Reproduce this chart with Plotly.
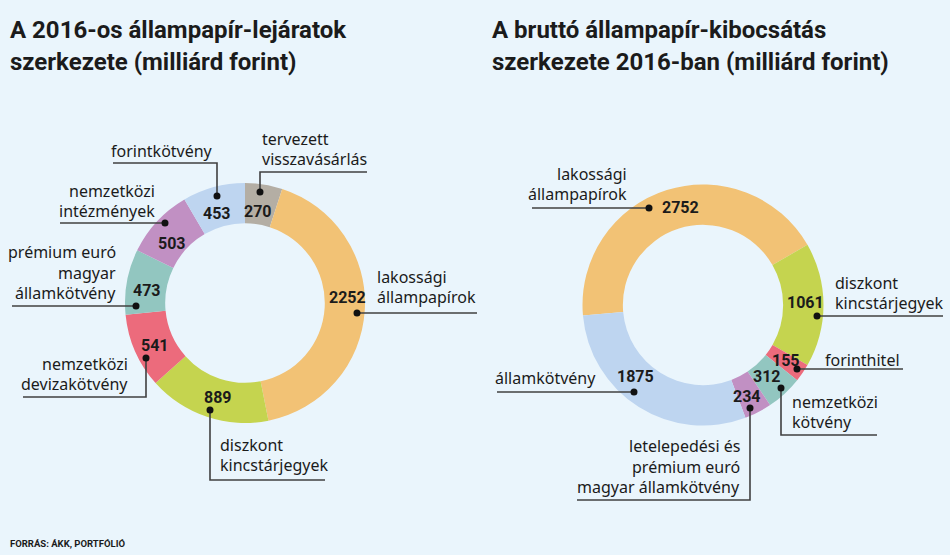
import plotly.graph_objects as go

W, H = 950, 555

# ---------------- data ----------------
left_categories = ["tervezett<br>visszavásárlás", "lakossági<br>állampapírok", "diszkont<br>kincstárjegyek",
                   "nemzetközi<br>devizakötvény", "prémium euró<br>magyar<br>államkötvény",
                   "nemzetközi<br>intézmények", "forintkötvény"]
left_values = [270, 2252, 889, 541, 473, 503, 453]

right_categories = ["lakossági<br>állampapírok", "diszkont<br>kincstárjegyek", "forinthitel",
                    "nemzetközi<br>kötvény", "letelepedési és<br>prémium euró<br>magyar államkötvény",
                    "államkötvény"]
right_values = [2752, 1061, 155, 312, 234, 1875]

left_title = ["A 2016-os állampapír-lejáratok", "szerkezete (milliárd forint)"]
right_title = ["A bruttó állampapír-kibocsátás", "szerkezete 2016-ban (milliárd forint)"]
source_text = "FORRÁS: ÁKK, PORTFÓLIÓ"

# ---------------- style ----------------
BG = "#EAF5FC"
C_GRAY, C_ORANGE, C_GREEN = "#B4AEA4", "#F2C275", "#C5D44F"
C_RED, C_TEAL, C_PURPLE, C_BLUE = "#EC6B7C", "#92C6C0", "#C190C3", "#BED5F0"
left_colors = [C_GRAY, C_ORANGE, C_GREEN, C_RED, C_TEAL, C_PURPLE, C_BLUE]
right_colors = [C_ORANGE, C_GREEN, C_RED, C_TEAL, C_PURPLE, C_BLUE]

TITLE_FONT = "Roboto, Liberation Sans Narrow, DejaVu Sans Condensed, sans-serif"
LABEL_FONT = "Noto Sans, Open Sans, sans-serif"
LINE_COLOR = "#404040"
TEXT_COLOR = "#1b1b1b"

# callout layout in pixels (number centre, dot, leader path, label x, align, last-line centre y)
left_callouts = [
    dict(num=(258, 211), dot=(260, 192), path=[(260, 172), (367, 172)], lx=260, align="left", ly=159),
    dict(num=(347, 297), dot=(357, 313), path=[(477, 313)], lx=375, align="left", ly=297),
    dict(num=(218, 397), dot=(210, 410), path=[(210, 480), (325, 480)], lx=218, align="left", ly=465),
    dict(num=(155, 345), dot=(146, 358), path=[(146, 397), (23, 397)], lx=130, align="right", ly=384),
    dict(num=(147, 290), dot=(136, 306), path=[(12, 306)], lx=118, align="right", ly=293),
    dict(num=(172, 244), dot=(165, 223), path=[(60, 223)], lx=157, align="right", ly=211),
    dict(num=(217, 213), dot=(217, 196), path=[(217, 163), (113, 163)], lx=215, align="right", ly=151),
]
right_callouts = [
    dict(num=(680, 208), dot=(649, 208), path=[(532, 208)], lx=629, align="right", ly=194),
    dict(num=(805, 302), dot=(817, 316), path=[(943, 316)], lx=833, align="left", ly=303),
    dict(num=(786, 360), dot=(797, 369), path=[(903, 369)], lx=823, align="left", ly=360),
    dict(num=(767, 377), dot=(781, 388), path=[(781, 435), (877, 435)], lx=790, align="left", ly=422),
    dict(num=(747, 396), dot=(750, 408), path=[(750, 500), (577, 500)], lx=742, align="right", ly=487),
    dict(num=(635, 377), dot=(634, 392), path=[(497, 392)], lx=598, align="right", ly=378),
]


def px(x):
    return x / W


def py(y):
    return 1 - y / H


def dom(cx, cy, r):
    return dict(x=[px(cx - r), px(cx + r)], y=[py(cy + r), py(cy - r)])


fig = go.Figure()
fig.add_trace(go.Pie(
    labels=left_categories, values=left_values, sort=False, direction="clockwise", rotation=0,
    hole=0.665, marker=dict(colors=left_colors, line=dict(width=0)), textinfo="none",
    domain=dom(245, 303, 120), showlegend=False, hoverinfo="label+value",
))
fig.add_trace(go.Pie(
    labels=right_categories, values=right_values, sort=False, direction="clockwise", rotation=265,
    hole=0.665, marker=dict(colors=right_colors, line=dict(width=0)), textinfo="none",
    domain=dom(703, 305, 120.5), showlegend=False, hoverinfo="label+value",
))

annotations = []
shapes = []


def add_text(x, y, text, size, family, xanchor="left", bold=False):
    annotations.append(dict(
        x=px(x), y=py(y), xref="paper", yref="paper", text=f"<b>{text}</b>" if bold else text,
        showarrow=False, xanchor=xanchor, yanchor="middle",
        font=dict(size=size, family=family, color=TEXT_COLOR),
    ))


for cats, vals, calls in [(left_categories, left_values, left_callouts),
                          (right_categories, right_values, right_callouts)]:
    for cat, val, c in zip(cats, vals, calls):
        # number
        add_text(c["num"][0], c["num"][1], str(val), 16, TITLE_FONT, xanchor="center", bold=True)
        # leader line
        pts = [c["dot"]] + c["path"]
        path = "M " + " L ".join(f"{px(x)},{py(y)}" for x, y in pts)
        shapes.append(dict(type="path", xref="paper", yref="paper", path=path,
                           line=dict(color=LINE_COLOR, width=1.6)))
        dx, dy = c["dot"]
        shapes.append(dict(type="circle", xref="paper", yref="paper",
                           x0=px(dx - 3.5), x1=px(dx + 3.5), y0=py(dy + 3.5), y1=py(dy - 3.5),
                           fillcolor="#111111", line=dict(width=0)))
        # label lines
        lines = cat.split("<br>")
        n = len(lines)
        for i, ln in enumerate(lines):
            yy = c["ly"] - (n - 1 - i) * 20.3
            add_text(c["lx"], yy, ln, 16, LABEL_FONT, xanchor=c["align"])

# titles
for i, t in enumerate(left_title):
    add_text(8, 30 + i * 32, t, 24, TITLE_FONT, bold=True)
for i, t in enumerate(right_title):
    add_text(490, 30 + i * 32, t, 24, TITLE_FONT, bold=True)

add_text(8, 543, source_text, 9.5, TITLE_FONT, bold=True)

fig.update_layout(
    width=W, height=H, margin=dict(l=0, r=0, t=0, b=0),
    paper_bgcolor=BG, plot_bgcolor=BG,
    annotations=annotations, shapes=shapes,
)

fig.write_html("out.html")
